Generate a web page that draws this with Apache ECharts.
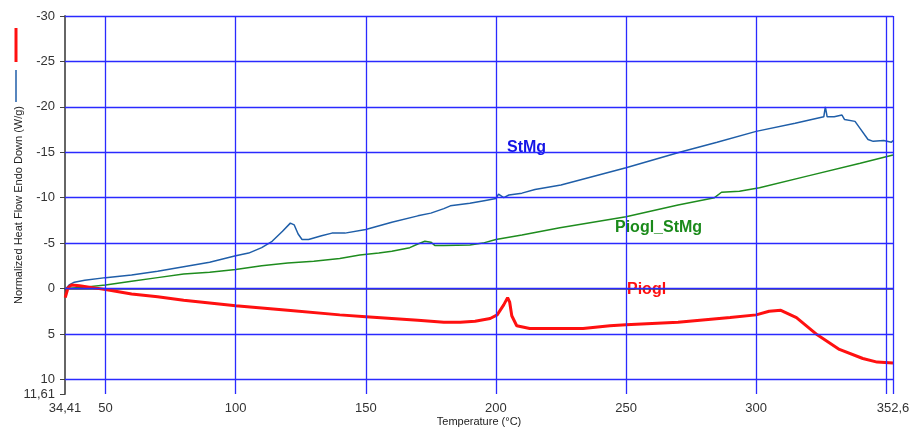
<!DOCTYPE html>
<html>
<head>
<meta charset="utf-8">
<script src="https://cdn.jsdelivr.net/npm/echarts@6/dist/echarts.min.js"></script>
<style>
html, body { margin: 0; padding: 0; background: #fff; }
#chart { width: 909px; height: 428px; }
</style>
</head>
<body>
<div id="chart"></div>
<script>
// StMg (blue)
var tempStMg = [34.8, 36, 38, 42, 50, 60, 70, 80, 90, 100, 105, 110, 114, 118, 121, 122.5, 124, 125.5, 128, 133, 137, 142, 150, 160, 170, 175, 180, 182.5, 190, 196, 200, 201, 203, 205, 210, 210.5, 215, 225, 250, 270.6, 285, 300, 315, 326, 326.6, 327.3, 330, 333, 334, 338, 340, 343, 345, 349, 352, 352.6];
var valStMg = [0, -0.4, -0.7, -0.9, -1.2, -1.5, -1.9, -2.4, -2.9, -3.6, -3.9, -4.5, -5.2, -6.3, -7.2, -7.0, -6.0, -5.4, -5.4, -5.8, -6.1, -6.1, -6.5, -7.3, -8.0, -8.3, -8.8, -9.1, -9.4, -9.7, -9.9, -10.4, -10.0, -10.3, -10.5, -10.7, -10.9, -11.4, -13.3, -15.0, -16.1, -17.3, -18.2, -18.9, -20.0, -18.9, -18.9, -19.1, -18.6, -18.4, -17.6, -16.4, -16.2, -16.3, -16.1, -16.3];

// Piogl_StMg (green)
var tempMix = [34.8, 40, 50, 60, 70, 80, 90, 100, 110, 120, 130, 140, 147.7, 155, 160, 166.9, 170, 172.7, 175, 176.5, 180, 190, 195, 200, 210, 224.6, 250, 270, 284, 286.7, 293.6, 301.3, 320, 340, 352.6];
var valMix = [0, -0.1, -0.4, -0.8, -1.2, -1.6, -1.8, -2.1, -2.5, -2.8, -3.0, -3.3, -3.7, -3.9, -4.1, -4.5, -4.9, -5.2, -5.1, -4.75, -4.75, -4.8, -5.0, -5.4, -5.9, -6.7, -7.9, -9.2, -10.0, -10.6, -10.7, -11.1, -12.4, -13.8, -14.7];

// Piogl (red)
var tempPiogl = [34.5, 35, 35.6, 37, 40, 45, 50, 60, 70, 80, 90, 100, 120, 140, 150, 170, 180, 186.3, 192, 197.8, 200.5, 203, 204.5, 205.3, 206.1, 208, 213, 233.5, 243.8, 250, 270, 290, 300, 305, 309.5, 315.5, 323.5, 332, 341, 346.5, 352.6];
var valPiogl = [1.0, 0.5, -0.1, -0.4, -0.3, -0.1, 0.1, 0.6, 0.9, 1.3, 1.6, 1.9, 2.4, 2.9, 3.1, 3.5, 3.7, 3.7, 3.6, 3.3, 2.9, 1.8, 1.0, 1.5, 3.0, 4.1, 4.4, 4.4, 4.1, 4.0, 3.7, 3.2, 2.9, 2.5, 2.4, 3.2, 5.1, 6.7, 7.7, 8.1, 8.2];

// axis labels and grid
var xTicks = [34.41, 50, 100, 150, 200, 250, 300, 352.6];
var yTicks = [-30, -25, -20, -15, -10, -5, 0, 5, 10, 11.61];
var gridX = [50, 100, 150, 200, 250, 300, 350, 352.6];
var gridY = [-30, -25, -20, -15, -10, -5, 0, 5, 10];

function pairs(t, v) {
    var out = [];
    for (var i = 0; i < t.length; i++) out.push([t[i], v[i]]);
    return out;
}
function comma(v) { return String(v).replace('.', ','); }

var gridLines = [];
for (var i = 0; i < gridX.length; i++) gridLines.push({ xAxis: gridX[i] });
for (var j = 0; j < gridY.length; j++) gridLines.push({ yAxis: gridY[j] });

var font = 'Liberation Sans, Arial, sans-serif';
var chart = echarts.init(document.getElementById('chart'));

var option = {
    animation: false,
    backgroundColor: '#fff',
    grid: { left: 65, right: 16, top: 16, bottom: 34, containLabel: false, outerBoundsMode: 'none' },
    xAxis: {
        type: 'value',
        min: 34.41,
        max: 352.6,
        name: 'Temperature (°C)',
        nameLocation: 'middle',
        nameGap: 22,
        nameMoveOverlap: false,
        nameTextStyle: { fontFamily: font, fontSize: 11, color: '#222' },
        axisLine: { lineStyle: { color: '#444', width: 1.5 } },
        axisTick: { customValues: xTicks, length: 5, lineStyle: { color: '#444' } },
        axisLabel: {
            customValues: xTicks, formatter: comma, margin: 8,
            fontFamily: font, fontSize: 13, color: '#333'
        },
        splitLine: { show: false }
    },
    yAxis: {
        type: 'value',
        inverse: true,
        min: -30,
        max: 11.61,
        name: 'Normalized Heat Flow Endo Down (W/g)',
        nameLocation: 'middle',
        nameGap: 41,
        nameMoveOverlap: false,
        nameTextStyle: { fontFamily: font, fontSize: 11, color: '#222' },
        axisLine: { show: true, lineStyle: { color: '#666', width: 2 } },
        axisTick: { show: true, customValues: yTicks, length: 5, lineStyle: { color: '#444' } },
        axisLabel: {
            customValues: yTicks, formatter: comma, margin: 10,
            fontFamily: font, fontSize: 13, color: '#333'
        },
        splitLine: { show: false }
    },
    series: [
        {
            name: 'grid',
            type: 'line',
            data: [],
            silent: true,
            markLine: {
                silent: true,
                symbol: 'none',
                label: { show: false },
                lineStyle: { color: '#2a2aff', width: 1.3, type: 'solid' },
                emphasis: { disabled: true },
                data: gridLines
            }
        },
        {
            name: 'StMg',
            type: 'line',
            showSymbol: false,
            data: pairs(tempStMg, valStMg),
            lineStyle: { color: '#1f5ea8', width: 1.5 },
            z: 3
        },
        {
            name: 'Piogl_StMg',
            type: 'line',
            showSymbol: false,
            data: pairs(tempMix, valMix),
            lineStyle: { color: '#1e8c1e', width: 1.5 },
            z: 3
        },
        {
            name: 'Piogl',
            type: 'line',
            showSymbol: false,
            data: pairs(tempPiogl, valPiogl),
            lineStyle: { color: '#ff1010', width: 3 },
            z: 4
        }
    ],
    graphic: [
        { type: 'line', shape: { x1: 16, y1: 28, x2: 16, y2: 62 }, style: { stroke: '#ff1010', lineWidth: 3 } },
        { type: 'line', shape: { x1: 16, y1: 70, x2: 16, y2: 102 }, style: { stroke: '#1f5ea8', lineWidth: 1.5 } },
        { type: 'text', left: 507, top: 140, style: { text: 'StMg', fill: '#1414e6', font: 'bold 16px ' + font } },
        { type: 'text', left: 615, top: 220, style: { text: 'Piogl_StMg', fill: '#1a8a1a', font: 'bold 16px ' + font } },
        { type: 'text', left: 627, top: 282, style: { text: 'Piogl', fill: '#ff1010', font: 'bold 16px ' + font } }
    ]
};
chart.setOption(option);
</script>
</body>
</html>
